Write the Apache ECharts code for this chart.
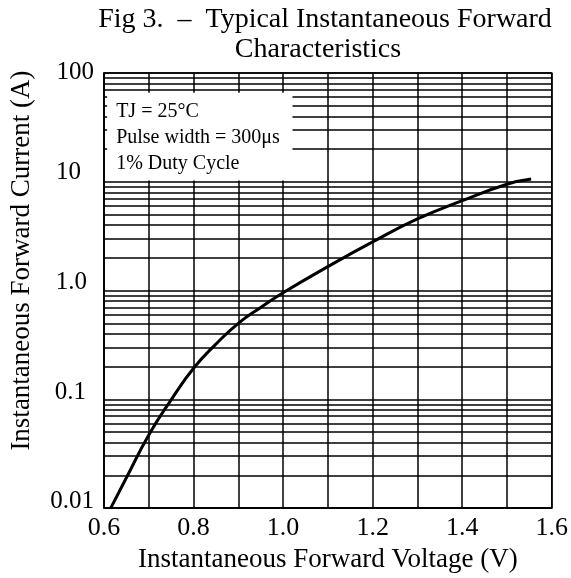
<!DOCTYPE html>
<html>
<head>
<meta charset="utf-8">
<script src="https://cdn.jsdelivr.net/npm/echarts@6/dist/echarts.min.js"></script>
<style>
html,body{margin:0;padding:0;background:#fff;}
#c{width:571px;height:578px;}
</style>
</head>
<body>
<div id="c"></div>
<script>
// ---- data ----
const voltage = [0.615, 0.65, 0.7, 0.75, 0.8, 0.85, 0.9, 0.95, 1.0, 1.1, 1.2, 1.3, 1.4, 1.5, 1.554];
const current = [0.01, 0.019, 0.047, 0.099, 0.193, 0.322, 0.5, 0.7, 0.955, 1.66, 2.8, 4.55, 6.7, 9.49, 10.6];
const yTickValues = [0.01, 0.1, 1, 10, 100];
const yTickLabels = ['0.01', '0.1', '1.0', '10', '100'];
const xTickLabels = ['0.6', '0.8', '1.0', '1.2', '1.4', '1.6'];
const minorMultipliers = [2, 3, 4, 5, 6, 7, 8, 9];
const decades = [0.01, 0.1, 1, 10];
const legendLines = ['TJ = 25°C', 'Pulse width = 300μs', '1% Duty Cycle'];
const titleLines = ['Fig 3.  \u2013  Typical Instantaneous Forward', 'Characteristics'];
const xName = 'Instantaneous Forward Voltage (V)';
const yName = 'Instantaneous Forward Current (A)';

// ---- layout / style ----
const FONT = '"Liberation Serif", "Times New Roman", serif';
const boxExtent = { x0: 0.607, x1: 1.021, yTop: 66, yBottom: 10.25 };
// per y-label padding [top, right, bottom, left] to mimic the reference placement
const yLabelPad = [[0, 0, 14, 0], [0, 8, 14, 0], [0, 7, 16, 0], [0, 13, 18, 0], [0, 0, 2, 0]];

const minorGrid = [];
decades.forEach(d => minorMultipliers.forEach(m => minorGrid.push(+(d * m).toPrecision(3))));

const pts = voltage.map((v, i) => [v, current[i]]);
const rich = {};
yLabelPad.forEach((p, i) => { rich['l' + i] = { padding: p, fontFamily: FONT, fontSize: 25, color: '#000' }; });

const chart = echarts.init(document.getElementById('c'), null, { renderer: 'canvas' });
chart.setOption({
  animation: false,
  backgroundColor: '#fff',
  graphic: [
    { type: 'text', x: 325, y: 20, silent: true,
      style: { text: titleLines[0], font: '28px ' + FONT, fill: '#000', align: 'center', verticalAlign: 'middle' } },
    { type: 'text', x: 318, y: 50, silent: true,
      style: { text: titleLines[1], font: '28px ' + FONT, fill: '#000', align: 'center', verticalAlign: 'middle' } }
  ],
  grid: { left: 103, right: 18, top: 73, bottom: 65, show: true,
          borderColor: '#000', borderWidth: 1.5, backgroundColor: 'transparent' },
  xAxis: {
    type: 'value', min: 0.6, max: 1.6, interval: 0.1,
    name: xName, nameLocation: 'middle', nameGap: 34,
    nameTextStyle: { fontFamily: FONT, fontSize: 27, color: '#000' },
    axisLine: { show: true, lineStyle: { color: '#000', width: 1.5 } },
    axisTick: { show: false },
    axisLabel: { fontFamily: FONT, fontSize: 26, color: '#000', margin: 7,
      formatter: v => { const i = Math.round((v - 0.6) * 10); return i % 2 === 0 ? xTickLabels[i / 2] : ''; } },
    splitLine: { show: true, lineStyle: { color: '#000', width: 1.5 } }
  },
  yAxis: {
    type: 'log', logBase: 10, min: 0.01, max: 100,
    name: yName, nameLocation: 'middle', nameGap: 69,
    nameTextStyle: { fontFamily: FONT, fontSize: 27, color: '#000', padding: [0, 0, 0, 60] },
    axisLine: { show: true, lineStyle: { color: '#000', width: 1.5 } },
    axisTick: { show: false },
    axisLabel: { fontFamily: FONT, fontSize: 25, color: '#000', margin: 10, rich: rich,
      formatter: v => { const i = yTickValues.findIndex(t => Math.abs(Math.log10(t) - Math.log10(v)) < 1e-6); return i >= 0 ? '{l' + i + '|' + yTickLabels[i] + '}' : ''; } },
    splitLine: { show: true, lineStyle: { color: '#000', width: 1.5 } },
    minorTick: { show: false },
    minorSplitLine: { show: false }
  },
  series: [
    {
      type: 'line', data: [], z: 1, silent: true,
      markLine: {
        z: 1, silent: true, symbol: 'none', label: { show: false }, animation: false,
        lineStyle: { color: '#000', width: 1.5, type: 'solid' },
        data: minorGrid.map(v => ({ yAxis: v }))
      }
    },
    {
      type: 'line', data: [], z: 2, silent: true,
      markArea: {
        z: 2, silent: true,
        itemStyle: { color: '#fff', opacity: 1 },
        label: {
          show: true, position: [9, 6],
          fontFamily: FONT, fontSize: 20, color: '#000', lineHeight: 26,
          align: 'left', verticalAlign: 'top',
          formatter: () => legendLines.join('\n')
        },
        data: [[{ xAxis: boxExtent.x0, yAxis: boxExtent.yTop }, { xAxis: boxExtent.x1, yAxis: boxExtent.yBottom }]]
      }
    },
    {
      type: 'line', data: pts, z: 3, smooth: 0.5, showSymbol: false,
      lineStyle: { color: '#000', width: 3 }
    }
  ]
});
</script>
</body>
</html>
